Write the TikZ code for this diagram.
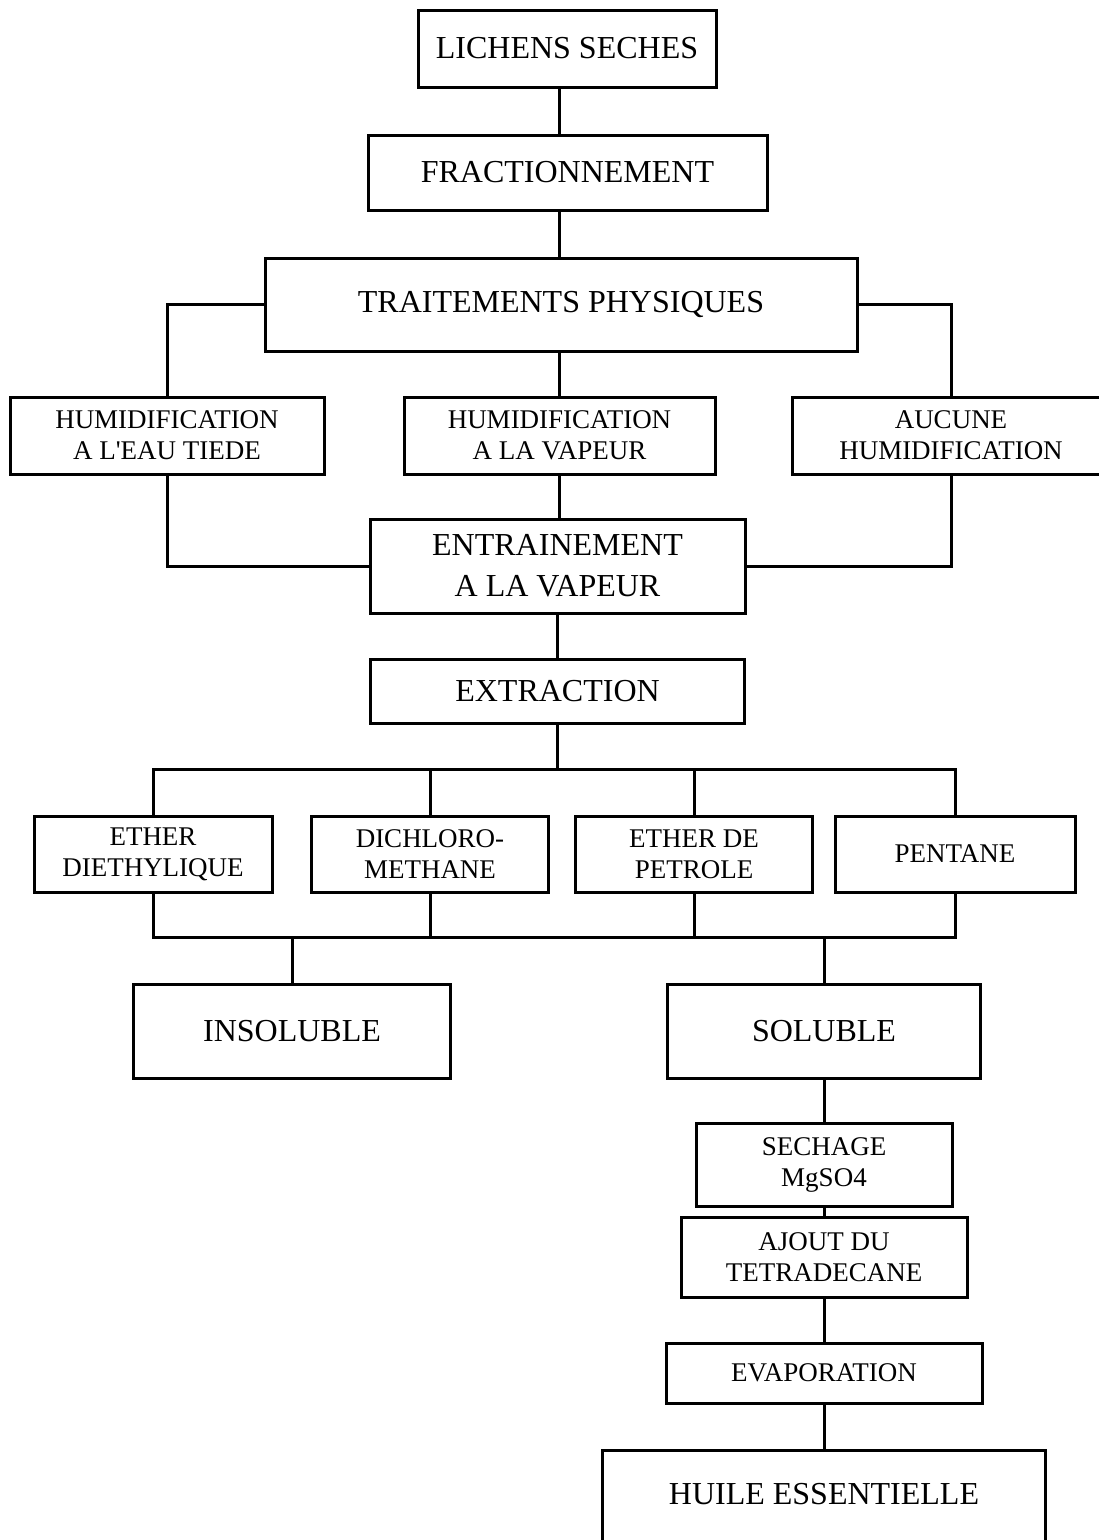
\documentclass[tikz,border=0pt]{standalone}
\usepackage{fontspec}
\setmainfont{Liberation Serif}[Ligatures=TeXOff]
\usepackage{tikz}
\usetikzlibrary{calc}

\begin{document}
\begin{tikzpicture}[x=1pt, y=-1pt,
        box/.style={draw, line width=3pt, align=center, inner sep=0pt},
        big/.style={font=\fontsize{32}{41}\selectfont},
        small/.style={font=\fontsize{27}{31}\selectfont},
        every path/.style={line width=3pt, line cap=rect}]
        \useasboundingbox (0, 0) rectangle (1099, 1540);
        \node[box, big, minimum width=298, minimum height=77] (lichens) at (567, 48.5) {LICHENS SECHES};
        \node[box, big, minimum width=399, minimum height=75] (fract) at (567.5, 172.5) {FRACTIONNEMENT};
        \node[box, big, minimum width=592, minimum height=93] (trait) at (561, 304.5) {TRAITEMENTS PHYSIQUES};
        \node[box, small, minimum width=314, minimum height=77] (heau) at (167, 435.5) {HUMIDIFICATION\\A L'EAU TIEDE};
        \node[box, small, minimum width=311, minimum height=77] (hvap) at (559.5, 435.5) {HUMIDIFICATION\\A LA VAPEUR};
        \node[box, small, minimum width=318, minimum height=77] (aucune) at (951, 435.5) {AUCUNE\\HUMIDIFICATION};
        \node[box, big, minimum width=375, minimum height=94] (entr) at (557.5, 566) {ENTRAINEMENT\\A LA VAPEUR};
        \node[box, big, minimum width=374, minimum height=64] (extr) at (557.5, 691) {EXTRACTION};
        \node[box, small, minimum width=238, minimum height=76] (ediet) at (153, 854) {ETHER\\DIETHYLIQUE};
        \node[box, small, minimum width=237, minimum height=76] (dichl) at (430, 854) {DICHLORO-\\METHANE};
        \node[box, small, minimum width=237, minimum height=76] (epet) at (694, 854) {ETHER DE\\PETROLE};
        \node[box, small, minimum width=240, minimum height=76] (pent) at (955, 854) {PENTANE};
        \node[box, big, minimum width=317, minimum height=94] (insol) at (292, 1031) {INSOLUBLE};
        \node[box, big, minimum width=313, minimum height=94] (sol) at (824, 1031) {SOLUBLE};
        \node[box, small, minimum width=256, minimum height=83] (sech) at (824, 1164.5) {SECHAGE\\MgSO4};
        \node[box, small, minimum width=286, minimum height=80] (ajout) at (824, 1257) {AJOUT DU\\TETRADECANE};
        \node[box, small, minimum width=316, minimum height=60] (evap) at (824, 1373) {EVAPORATION};
        \node[box, big, minimum width=443, text height=54, text depth=60, anchor=north] (huile) at (824, 1449) {HUILE ESSENTIELLE};
        \coordinate (split) at (557.5, 769);
        \coordinate (merge) at (557.5, 937);
        \draw (lichens.south -| hvap) -- (fract.north -| hvap);
        \draw (fract.south -| hvap) -- (trait.north -| hvap);
        \draw (trait.west) -| (heau.north);
        \draw (trait.east) -| (aucune.north);
        \draw (trait.south -| hvap) -- (hvap.north);
        \draw (heau.south) |- (entr.west);
        \draw (aucune.south) |- (entr.east);
        \draw (hvap.south) -- (entr.north -| hvap);
        \draw (entr.south) -- (extr.north);
        \draw (extr.south) -- (split);
        \draw (ediet.north |- split) -- (pent.north |- split);
        \foreach \n in {ediet, dichl, epet, pent} \draw (\n.north) -- (\n.north |- split);
        \foreach \n in {ediet, dichl, epet, pent} \draw (\n.south) -- (\n.south |- merge);
        \draw (ediet.south |- merge) -- (pent.south |- merge);
        \draw (insol.north) -- (insol.north |- merge);
        \draw (sol.north) -- (sol.north |- merge);
        \draw (sol.south) -- (sech.north);
        \draw (sech.south) -- (ajout.north);
        \draw (ajout.south) -- (evap.north);
        \draw (evap.south) -- (huile.north);
    \end{tikzpicture}
\end{document}
